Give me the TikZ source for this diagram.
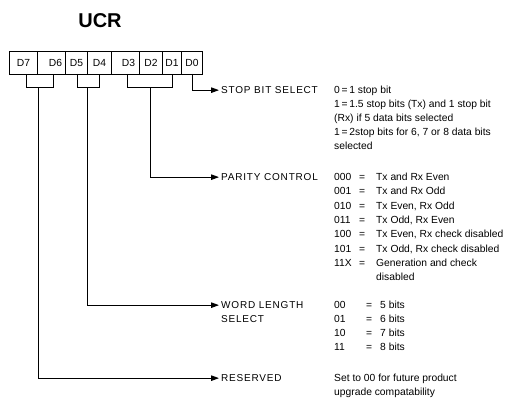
\documentclass[tikz,border=0pt]{standalone}
\usepackage{fontspec}
\setmainfont{Liberation Sans}
\newfontfamily\lblfont[LetterSpace=8]{Liberation Sans}
\usetikzlibrary{arrows.meta}
\begin{document}
\begin{tikzpicture}[x=1pt,y=-1pt,
  reg/.style={draw, line width=1pt, minimum height=23pt, inner sep=0pt, anchor=north west, font=\fontsize{10.3}{12}\selectfont},
  lbl/.style={anchor=base west, inner xsep=2pt, inner ysep=0pt, font=\lblfont\fontsize{10}{12}\selectfont},
  desc/.style={anchor=base west, inner sep=0pt, font=\fontsize{10.3}{12}\selectfont},
  wire/.style={line width=1pt},
  arr/.style={wire, -{Triangle[length=8pt,width=5.5pt]}}
]
\useasboundingbox (0,0) rectangle (507,398);
\node[font=\bfseries\fontsize{20}{22}\selectfont, inner sep=0pt] (title) at (100,21) {UCR};
% register
\node[reg, minimum width=28pt] (d7) at (9,51) {D7\hspace{8pt}};
\node[reg, minimum width=28pt] (d6) at (37,51) {\hspace{8pt}D6};
\node[reg, minimum width=22pt] (d5) at (65,51) {D5};
\node[reg, minimum width=24pt] (d4) at (87,51) {D4};
\node[reg, minimum width=28pt] (d3) at (111,51) {\hspace{6pt}D3};
\node[reg, minimum width=23pt] (d2) at (139,51) {D2};
\node[reg, minimum width=19pt] (d1) at (162,51) {D1};
\node[reg, minimum width=21pt] (d0) at (181,51) {D0};
% brackets
\draw[wire] (26,74) |- (53,88) -- (53,74);
\draw[wire] (77,74) |- (99,88) -- (99,74);
\draw[wire] (127,74) |- (172,88) -- (172,74);
\coordinate (s76) at (38,88);
\coordinate (s54) at (87,88);
\coordinate (s31) at (150,88);
\coordinate (s0) at (192,74);
% labels
\node[lbl] (stop) at (219,93.6) {STOP BIT SELECT};
\node[lbl] (par) at (219,180.6) {PARITY CONTROL};
\node[lbl] (word) at (219,308.6) {WORD LENGTH};
\node[lbl] (word2) at (219,322.6) {SELECT};
\node[lbl] (res) at (219,381.6) {RESERVED};
% connectors
\draw[arr] (s0) |- (stop.west);
\draw[arr] (s31) |- (par.west);
\draw[arr] (s54) |- (word.west);
\draw[arr] (s76) |- (res.west);
% stop bit descriptions
\node[desc] (st1) at (334,93.6) {0\,=\,1 stop bit};
\node[desc] (st2) at (334,107.6) {1\,=\,1.5 stop bits (Tx) and 1 stop bit};
\node[desc] (st3) at (334,121.6) {(Rx) if 5 data bits selected};
\node[desc] (st4) at (334,135.6) {1\,=\,2stop bits for 6, 7 or 8 data bits};
\node[desc] (st5) at (334,149.6) {selected};
% parity descriptions
\newcommand{\pc}[2]{\makebox[25pt][l]{#1}\makebox[17pt][l]{=}#2}
\node[desc] (p1) at (334,180.6) {\pc{000}{Tx and Rx Even}};
\node[desc] (p2) at (334,194.9) {\pc{001}{Tx and Rx Odd}};
\node[desc] (p3) at (334,209.2) {\pc{010}{Tx Even, Rx Odd}};
\node[desc] (p4) at (334,223.5) {\pc{011}{Tx Odd, Rx Even}};
\node[desc] (p5) at (334,237.8) {\pc{100}{Tx Even, Rx check disabled}};
\node[desc] (p6) at (334,252.1) {\pc{101}{Tx Odd, Rx check disabled}};
\node[desc] (p7) at (334,266.4) {\pc{11X}{Generation and check}};
\node[desc] (p8) at (376,280.7) {disabled};
% word length descriptions
\newcommand{\wc}[2]{\makebox[32pt][l]{#1}\makebox[14pt][l]{=}#2}
\node[desc] (w1) at (334,308.6) {\wc{00}{5 bits}};
\node[desc] (w2) at (334,322.6) {\wc{01}{6 bits}};
\node[desc] (w3) at (334,336.6) {\wc{10}{7 bits}};
\node[desc] (w4) at (334,350.6) {\wc{11}{8 bits}};
% reserved
\node[desc] (r1) at (334,381.6) {Set to 00 for future product};
\node[desc] (r2) at (334,395.6) {upgrade compatability};
\end{tikzpicture}
\end{document}
